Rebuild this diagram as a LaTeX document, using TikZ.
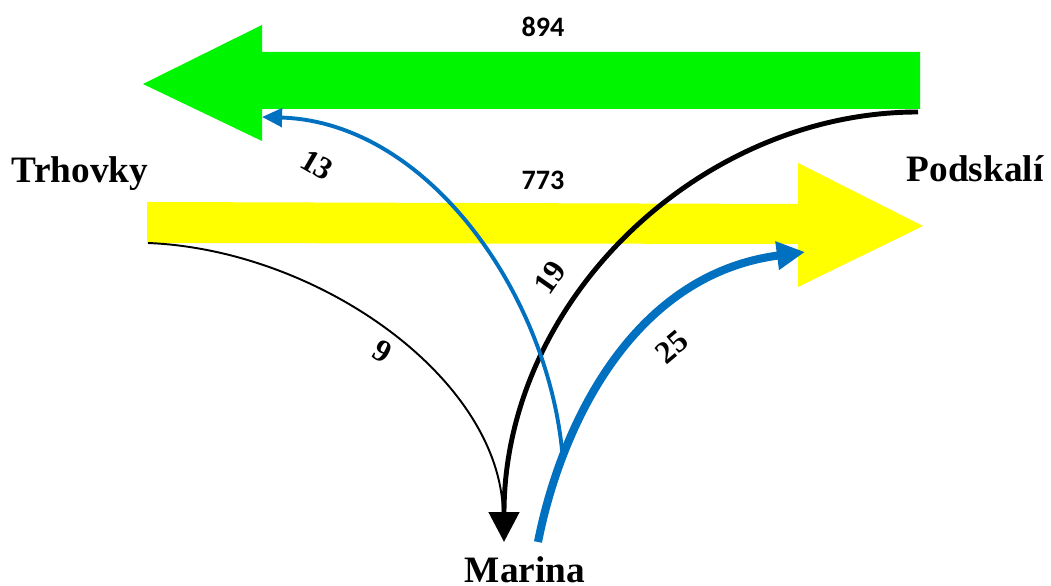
\documentclass[tikz,border=0pt]{standalone}
\usepackage{fontspec}
\setmainfont{Liberation Serif}
\newfontfamily\numfont{Carlito}
\usetikzlibrary{arrows.meta}
\definecolor{flowgreen}{RGB}{0,245,0}
\definecolor{flowyellow}{RGB}{255,255,0}
\definecolor{flowblue}{RGB}{0,112,192}
\tikzset{
  place/.style={font=\fontsize{10.6}{12}\selectfont\bfseries, inner sep=0pt, anchor=base},
  bignum/.style={font=\numfont\fontsize{8}{10}\selectfont\bfseries, inner sep=0pt},
  smallnum/.style={font=\fontsize{9}{10}\selectfont\bfseries, inner sep=0pt},
  blackflow/.style={draw=black, line width=1.4pt, -{Triangle[width=8.5pt,length=8.5pt]}},
  thinflow/.style={draw=black, line width=0.55pt},
  bluethick/.style={draw=flowblue, line width=2.3pt, -{Triangle[width=7.7pt,length=8pt]}},
  bluethin/.style={draw=flowblue, line width=1.1pt, -{Triangle[width=5.2pt,length=5.7pt]}},
}
\begin{document}
\begin{tikzpicture}[x=0.01cm, y=-0.01cm]
  \useasboundingbox (0,0) rectangle (1051,586);

  % main flows
  \fill[flowgreen] (920,52) -- (262,52) -- (262,25) -- (143,84) -- (262,141)
                   -- (262,109) -- (920,109) -- cycle;
  \fill[flowyellow] (147,202) -- (798,204) -- (798,163) -- (923,226) -- (798,287)
                    -- (798,244) -- (147,243) -- cycle;

  % place names
  \node[place] (trhovky)   at (80,183)  {Trhovky};
  \node[place] (podskali)  at (975,182) {Podskalí};
  \node[place] (marina)    at (525,583) {Marina};

  % end points of the turning flows
  \coordinate (gEnd)   at (918,112);
  \coordinate (yStart) at (148,243);
  \coordinate (mTip)   at (504,542);
  \coordinate (mHead)  at (503,515);
  \coordinate (mOut)   at (538,542);
  \coordinate (bFork)  at (563,462);
  \coordinate (yTip)   at (805,252);
  \coordinate (gTip)   at (262,117);

  % turning flows
  \draw[thinflow] (yStart) .. controls (320,250) and (502,380) .. (mHead);
  \draw[blackflow] (gEnd) .. controls (700,112) and (504,300) .. (mTip);
  \draw[bluethick] (mOut) .. controls (560,430) and (630,275) .. (yTip);
  \draw[bluethin] (bFork) .. controls (552,300) and (430,122) .. (gTip);

  % volumes
  \node[bignum] (n894) at (543,27)  {894};
  \node[bignum] (n773) at (543,180) {773};
  \node[smallnum, rotate=-30] (n13) at (317,165) {13};
  \node[smallnum, rotate=55]  (n19) at (550,278) {19};
  \node[smallnum, rotate=40]  (n25) at (672,347) {25};
  \node[smallnum, rotate=-30] (n9)  at (383,352) {9};
\end{tikzpicture}
\end{document}
